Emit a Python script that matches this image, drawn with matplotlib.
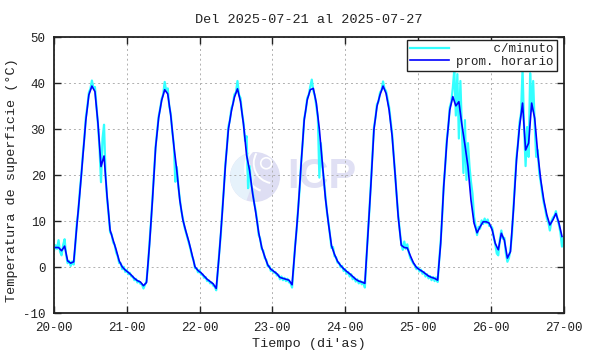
import numpy as np
import matplotlib.pyplot as plt
from matplotlib.patches import Circle, Wedge, Arc

plt.rcParams['font.family'] = ['Liberation Mono', 'DejaVu Sans Mono']
plt.rcParams['axes.unicode_minus'] = False

titulo = "Del 2025-07-21 al 2025-07-27"
fechas = ["20-00", "21-00", "22-00", "23-00", "24-00", "25-00", "26-00", "27-00"]
y_ticks = [-10, 0, 10, 20, 30, 40, 50]

# promedio horario (un valor por hora, dias 20 a 26)
prom_20 = [4.3, 4.3, 3.6, 4.6, 1.4, 0.9, 1.2, 8.8, 16.0, 24.0, 32.0, 37.5,
           39.4, 38.2, 31.3, 21.9, 24.2, 15.4, 8.1, 5.9, 3.8, 1.4, 0.1, -0.6]
prom_21 = [-1.1, -1.7, -2.4, -2.9, -3.2, -4.0, -3.3, 5.0, 15.0, 26.0, 32.5, 36.3,
           38.6, 37.7, 33.0, 26.5, 21.0, 14.5, 10.3, 7.8, 5.5, 2.8, 0.1, -0.7]
prom_22 = [-1.2, -1.9, -2.6, -3.1, -3.6, -4.6, 3.0, 12.0, 22.0, 30.0, 34.0, 37.0,
           38.8, 36.0, 31.0, 24.4, 21.0, 16.0, 12.0, 7.5, 4.3, 2.3, 0.5, -0.4]
prom_23 = [-0.9, -1.4, -2.2, -2.4, -2.6, -2.8, -3.8, 4.5, 12.5, 22.6, 32.0, 36.4,
           38.6, 38.9, 35.7, 30.0, 22.5, 15.0, 9.5, 4.7, 2.8, 1.3, 0.4, -0.3]
prom_24 = [-0.9, -1.4, -2.0, -2.6, -3.0, -3.2, -3.5, 7.0, 18.0, 30.0, 35.0, 37.5,
           39.4, 37.8, 34.2, 28.5, 20.0, 11.0, 4.8, 4.3, 4.2, 2.5, 1.0, 0.0]
prom_25 = [-0.5, -0.9, -1.4, -1.9, -2.2, -2.4, -2.8, 5.2, 17.5, 27.0, 34.2, 37.1,
           35.1, 36.0, 31.0, 26.6, 21.9, 14.6, 9.6, 7.5, 8.8, 9.9, 9.9, 9.6]
prom_26 = [8.1, 5.2, 3.8, 7.4, 5.9, 2.0, 3.4, 12.5, 23.3, 30.6, 35.7, 25.5,
           27.0, 35.7, 32.4, 24.8, 19.0, 14.6, 11.4, 9.2, 10.3, 11.7, 9.6, 6.7]

# lecturas c/minuto (leidas cada media hora del grafico)
min_20 = [3.6, 4.8, 4.0, 5.9, 3.4, 2.6, 4.8, 6.1, 2.6, 0.9,
          1.4, 0.3, 1.3, 0.6, 4.6, 9.4, 12.0, 16.6, 20.0, 24.5,
          28.0, 32.6, 35.0, 38.0, 38.8, 40.6, 39.0, 39.2, 35.0, 31.0,
          26.0, 18.5, 28.0, 31.0, 20.0, 15.0, 11.5, 7.6, 7.2, 5.4,
          4.9, 3.2, 2.4, 0.9, 0.9, -0.4, 0.1, -1.0]
min_21 = [-0.6, -1.5, -1.2, -2.0, -2.0, -2.8, -2.5, -3.3, -3.0, -3.6,
          -3.7, -4.6, -3.8, -3.0, 0.5, 5.6, 10.0, 15.4, 20.5, 26.2,
          29.5, 32.8, 34.5, 36.6, 37.6, 40.3, 38.3, 38.9, 35.0, 33.4,
          29.5, 26.8, 18.6, 21.8, 17.5, 14.8, 12.2, 10.6, 8.8, 7.6,
          6.4, 5.2, 4.0, 2.4, 1.6, -0.2, -0.2, -1.1]
min_22 = [-0.6, -1.6, -1.5, -2.3, -2.1, -3.0, -2.8, -3.5, -3.3, -4.0,
          -4.2, -5.0, -1.0, 3.4, 7.0, 12.4, 17.0, 22.4, 26.0, 30.6,
          32.0, 34.6, 35.5, 37.6, 38.0, 40.5, 37.5, 36.8, 33.6, 31.4,
          27.5, 28.5, 17.2, 22.0, 18.0, 16.4, 14.0, 12.4, 10.0, 7.0,
          6.2, 4.0, 3.6, 2.0, 1.6, 0.2, 0.3, -0.8]
min_23 = [-0.5, -1.2, -1.0, -1.8, -1.6, -2.6, -2.0, -2.8, -2.3, -3.0,
          -2.5, -3.3, -3.4, -4.4, 0.0, 4.8, 8.0, 12.9, 17.0, 22.8,
          27.0, 32.4, 34.0, 36.8, 37.5, 39.3, 40.8, 38.4, 37.3, 35.0,
          32.5, 19.5, 27.0, 22.0, 19.0, 15.4, 12.0, 9.8, 7.0, 4.2,
          4.4, 2.4, 2.2, 1.0, 1.0, 0.0, 0.3, -0.8]
min_24 = [-0.4, -1.4, -1.0, -2.0, -1.5, -2.6, -2.2, -3.1, -2.6, -3.5,
          -2.9, -3.7, -3.2, -4.4, 1.5, 7.4, 12.5, 18.4, 24.0, 30.4,
          32.5, 35.5, 36.0, 38.0, 38.5, 40.4, 38.8, 38.3, 36.5, 34.8,
          31.8, 29.0, 24.5, 20.3, 15.5, 11.4, 8.0, 5.2, 3.8, 5.6,
          4.0, 5.0, 3.2, 2.0, 1.4, 0.8, 0.4, -0.4]
min_25 = [0.0, -0.9, -0.5, -1.4, -1.0, -2.0, -1.5, -2.4, -1.9, -2.8,
          -2.1, -3.0, -2.2, -3.2, 1.5, 5.6, 11.0, 17.8, 22.0, 27.6,
          30.5, 34.8, 36.0, 39.0, 43.0, 33.0, 42.0, 28.0, 40.5, 30.0,
          20.5, 32.0, 19.0, 27.0, 22.0, 18.5, 16.0, 11.0, 9.0, 7.0,
          8.8, 8.4, 10.2, 9.4, 10.6, 9.6, 10.4, 9.0]
min_26 = [9.0, 8.6, 6.5, 5.0, 3.0, 2.6, 6.0, 8.0, 6.2, 6.4,
          3.0, 1.2, 2.0, 3.8, 7.0, 13.0, 18.5, 24.0, 27.0, 31.5,
          33.5, 43.2, 30.5, 22.0, 30.5, 24.0, 42.2, 34.0, 40.5, 31.0,
          24.0, 25.5, 20.5, 18.5, 16.0, 14.0, 12.5, 10.6, 9.8, 8.0,
          10.0, 10.8, 11.2, 12.2, 10.5, 9.2, 7.5, 4.5, 6.5]

prom_horario = prom_20 + prom_21 + prom_22 + prom_23 + prom_24 + prom_25 + prom_26
c_minuto = min_20 + min_21 + min_22 + min_23 + min_24 + min_25 + min_26

t_horario = np.arange(len(prom_horario)) + 0.5   # horas desde 20-00
t_minuto = np.arange(len(c_minuto)) * 0.5

W, H = 590, 354
fig = plt.figure(figsize=(W / 100, H / 100), dpi=100)

# logo de fondo (marca de agua)
lax = fig.add_axes([230 / W, 1 - 202 / H, 50 / W, 50 / H], zorder=0)
lax.set_xlim(-1, 1)
lax.set_ylim(-1, 1)
lax.axis('off')
lax.add_patch(Circle((0, 0), 1, color='#dedef3', lw=0))
lax.add_patch(Wedge((0, 0), 1, 110, 250, color='#e6f2fb', lw=0))
lax.add_patch(Arc((0.55, 0.35), 1.9, 1.9, theta1=130, theta2=250, color='white', lw=1.6))
lax.add_patch(Arc((0.75, 0.55), 1.6, 1.6, theta1=150, theta2=260, color='white', lw=1.4))
lax.add_patch(Circle((0.45, 0.55), 0.22, fill=False, ec='white', lw=1.2))
fig.text(287 / W, 1 - 177 / H, "ICP", fontsize=30, fontweight='bold',
         family='Liberation Sans', color='#e0e0f4', ha='left', va='center', zorder=0)

ax = fig.add_axes([54 / W, 1 - 313.3 / H, 509.5 / W, 276 / H], zorder=1)
ax.set_facecolor('none')

l1, = ax.plot(t_minuto, c_minuto, color='#33ffff', lw=1.6, zorder=2)
l2, = ax.plot(t_horario, prom_horario, color='#0000ff', lw=1.2, zorder=3)

ax.set_xlim(0, 168)
ax.set_ylim(-10, 50)
ax.set_xticks(np.arange(0, 169, 24))
ax.set_xticklabels(fechas)
ax.set_yticks(y_ticks)
ax.tick_params(direction='in', top=True, right=True, length=5, width=1,
               labelsize=9, pad=6, colors='#222222')
ax.tick_params(axis='x', pad=6)
ax.grid(True, color='#b0b0b0', linestyle=(0, (2, 3)), linewidth=0.7, zorder=1)
for s in ax.spines.values():
    s.set_linewidth(1.3)
    s.set_color('#222222')

ax.set_xlabel("Tiempo (di'as)", fontsize=9.7, color='#222222')
ax.xaxis.set_label_coords(0.5, -0.09)
ax.xaxis.label.set_va('top')
ax.set_ylabel("Temperatura de superficie (°C)", fontsize=9.7, color='#222222')
ax.yaxis.set_label_coords(-0.07, 0.483)

fig.text(308.75 / W, 1 - 20 / H, titulo, fontsize=9.7, color='#222222',
         ha='center', va='center')

leg = ax.legend([l1, l2], ["     c/minuto", "prom. horario"], loc='upper right',
                bbox_to_anchor=(0.987, 0.99), borderaxespad=0, fancybox=False,
                framealpha=1, edgecolor='#222222', fontsize=9, handlelength=3.1,
                handletextpad=0.6, labelspacing=0.05, borderpad=0.25)
leg.get_frame().set_linewidth(1.0)
for t in leg.get_texts():
    t.set_color('#222222')

fig.savefig("out.png", dpi=100)
